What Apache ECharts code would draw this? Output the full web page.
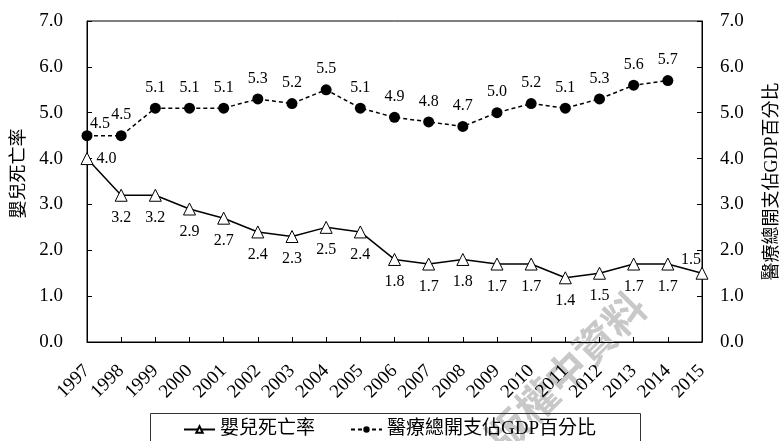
<!DOCTYPE html>
<html>
<head>
<meta charset="utf-8">
<script src="https://cdn.jsdelivr.net/npm/echarts@6/dist/echarts.min.js"></script>
<style>
  html, body { margin: 0; padding: 0; background: #fff; }
  #chart { width: 780px; height: 441px; }
</style>
</head>
<body>
<div id="chart"></div>
<script>
// Hong Kong: infant mortality vs. total health expenditure as % of GDP, 1997–2015
const years = ['1997', '1998', '1999', '2000', '2001', '2002', '2003', '2004', '2005', '2006',
               '2007', '2008', '2009', '2010', '2011', '2012', '2013', '2014', '2015'];
const infantMortality = [4.0, 3.2, 3.2, 2.9, 2.7, 2.4, 2.3, 2.5, 2.4, 1.8,
                         1.7, 1.8, 1.7, 1.7, 1.4, 1.5, 1.7, 1.7, 1.5];
const healthSpendingGdp = [4.5, 4.5, 5.1, 5.1, 5.1, 5.3, 5.2, 5.5, 5.1, 4.9,
                           4.8, 4.7, 5.0, 5.2, 5.1, 5.3, 5.6, 5.7, null];
const seriesNames = ['嬰兒死亡率', '醫療總開支佔GDP百分比'];
const watermarkText = '版權中資料';

const SERIF = 'Liberation Serif, Times New Roman, serif';
const CJK = 'Liberation Serif, Noto Sans CJK TC, serif';

// Per-point label placement tweaks (near the axes)
const mortalityData = infantMortality.map((v, i) => {
  if (i === 0) return { value: v, label: { position: 'right', distance: 3 } };
  if (i === infantMortality.length - 1) return { value: v, label: { position: 'top', distance: 0, offset: [-11, 1] } };
  return v;
});
const spendingData = healthSpendingGdp.map((v, i) => {
  if (i === 0) return { value: v, label: { offset: [13, 9] } };
  return v;
});

const valueAxisBase = {
  type: 'value',
  min: 0,
  max: 7,
  interval: 1,
  nameLocation: 'middle',
  nameRotate: 90,
  nameTextStyle: { fontFamily: CJK, fontSize: 18, color: '#000' },
  axisLine: { show: true, lineStyle: { color: '#000', width: 1 } },
  axisTick: { show: true, inside: true, length: 5, lineStyle: { color: '#000' } },
  axisLabel: {
    fontFamily: SERIF, fontSize: 19, color: '#000',
    formatter: v => v.toFixed(1)
  },
  splitLine: { show: false }
};

const chart = echarts.init(document.getElementById('chart'), null, { renderer: 'canvas' });
chart.setOption({
  animation: false,
  backgroundColor: '#fff',
  grid: {
    left: 87, right: 78, top: 21, bottom: 99,
    outerBoundsMode: 'none',
    containLabel: false,
    show: true, borderColor: '#000', borderWidth: 1, backgroundColor: 'transparent'
  },
  legend: {
    left: 183,
    top: 420,
    padding: 0,
    itemWidth: 31,
    itemHeight: 8,
    itemGap: 35,
    textStyle: { fontFamily: CJK, fontSize: 19, color: '#000' },
    data: seriesNames
  },
  xAxis: {
    type: 'category',
    data: years,
    boundaryGap: false,
    axisLine: { lineStyle: { color: '#000', width: 1 } },
    axisTick: { show: true, inside: true, length: 5, alignWithLabel: true, lineStyle: { color: '#000' } },
    axisLabel: { rotate: 45, margin: 26, fontFamily: SERIF, fontSize: 19, color: '#000', interval: 0 }
  },
  yAxis: [
    Object.assign({}, valueAxisBase, {
      name: seriesNames[0], position: 'left', nameGap: 59,
      nameTextStyle: Object.assign({}, valueAxisBase.nameTextStyle, { padding: [0, 0, 0, 16] }),
      axisLabel: Object.assign({}, valueAxisBase.axisLabel, { margin: 24 })
    }),
    Object.assign({}, valueAxisBase, {
      name: seriesNames[1], position: 'right', nameGap: 61,
      axisLabel: Object.assign({}, valueAxisBase.axisLabel, { margin: 18 })
    })
  ],
  series: [
    {
      name: seriesNames[0],
      type: 'line',
      yAxisIndex: 0,
      data: mortalityData,
      symbol: 'triangle',
      symbolSize: 12,
      itemStyle: { color: '#fff', borderColor: '#000', borderWidth: 1 },
      lineStyle: { color: '#000', width: 1.5, type: 'solid' },
      label: {
        show: true, position: 'bottom', distance: 8,
        fontFamily: SERIF, fontSize: 16, color: '#000',
        formatter: p => p.value.toFixed(1)
      },
      z: 3
    },
    {
      name: seriesNames[1],
      type: 'line',
      yAxisIndex: 1,
      data: spendingData,
      symbol: 'circle',
      symbolSize: 11,
      itemStyle: { color: '#000', borderColor: '#000', borderWidth: 0 },
      lineStyle: { color: '#000', width: 1.5, type: [4, 3] },
      label: {
        show: true, position: 'top', distance: 7,
        fontFamily: SERIF, fontSize: 16, color: '#000',
        formatter: p => p.value.toFixed(1)
      },
      z: 3
    }
  ],
  graphic: [
    {
      type: 'rect',
      z: 1,
      shape: { x: 150.5, y: 413.5, width: 490, height: 40 },
      style: { fill: 'none', stroke: '#333', lineWidth: 1 }
    },
    {
      type: 'text',
      z: 0,
      x: 566,
      y: 372,
      rotation: Math.PI / 4,
      style: {
        text: watermarkText,
        fontFamily: 'Noto Sans CJK TC, sans-serif',
        fontSize: 41,
        fontWeight: 'bold',
        fill: '#c8c8c8',
        align: 'center',
        verticalAlign: 'middle'
      }
    }
  ]
});
</script>
</body>
</html>
